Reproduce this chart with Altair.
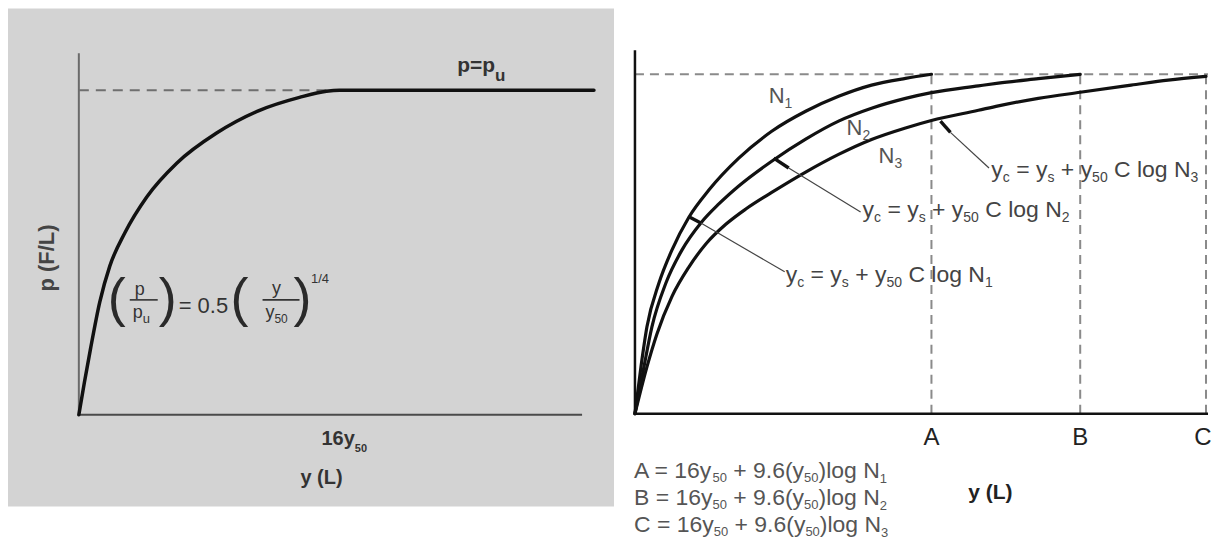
import altair as alt
import pandas as pd

# ---------------- data ----------------
# Left panel: p/pu versus y (in units of y50); reaches pu at 16 y50, then flat
left_y = [0, 0.337, 0.705, 1.287, 1.90, 2.82, 4.17, 6.01, 8.46, 11.10, 13.55, 15.2, 16.0, 31.63]
left_p = [0, 0.0985, 0.200, 0.348, 0.458, 0.560, 0.671, 0.775, 0.868, 0.938, 0.978, 0.997, 1.0, 1.0]

# Right panel: y as percent of C, p/pu
n1_y = [0, 1.05, 2.10, 4.20, 6.47, 9.44, 12.94, 18.18, 23.95, 29.90, 35.66, 41.43, 47.38, 51.92]
n1_p = [0, 0.138, 0.256, 0.385, 0.482, 0.579, 0.659, 0.753, 0.832, 0.891, 0.935, 0.968, 0.988, 1.0]
n2_y = [0, 1.57, 2.97, 5.42, 8.22, 11.54, 14.69, 18.18, 23.95, 29.90, 35.66, 41.43, 47.38, 51.92,
        60.14, 63.64, 70.63, 77.97]
n2_p = [0, 0.138, 0.256, 0.385, 0.482, 0.562, 0.618, 0.671, 0.744, 0.809, 0.862, 0.900, 0.929, 0.946,
        0.966, 0.974, 0.987, 1.0]
n3_y = [0, 2.10, 3.85, 6.47, 9.44, 12.41, 15.91, 19.41, 23.95, 29.90, 35.66, 41.43, 47.38, 51.92,
        60.14, 63.64, 70.63, 77.97, 86.89, 93.36, 100]
n3_p = [0, 0.138, 0.235, 0.345, 0.432, 0.500, 0.558, 0.603, 0.652, 0.712, 0.764, 0.808, 0.842, 0.864,
        0.894, 0.907, 0.929, 0.947, 0.968, 0.983, 0.994]
marks_abc = ["A", "B", "C"]
marks_pos = [51.92, 77.97, 100.0]
label_pos = [51.92, 77.97, 99.45]
curve_names = ["1", "2", "3"]

# ---------------- layout ----------------
FONT = "Liberation Sans"
LW, LH = 607, 499
RW, RH = 598, 528
LX = [-4.35, 32.86]
LY = [-0.283, 1.252]
RX = [-3.671, -3.671 + RW / 5.72]
RY = [1.194 - RH / 340.0, 1.194]
Lppx = LW / (LX[1] - LX[0]); Lppy = LH / (LY[1] - LY[0])
Rppx = RW / (RX[1] - RX[0]); Rppy = RH / (RY[1] - RY[0])

sxL = alt.Scale(domain=LX, nice=False, zero=False)
syL = alt.Scale(domain=LY, nice=False, zero=False)
sxR = alt.Scale(domain=RX, nice=False, zero=False)
syR = alt.Scale(domain=RY, nice=False, zero=False)

W_REG = {' ': 278, '=': 584, '+': 584, '(': 333, ')': 333, '.': 278, '/': 278, 'A': 667, 'B': 667,
         'C': 722, 'N': 722, 'F': 611, 'L': 556, 'a': 556, 'c': 500, 'g': 556, 'l': 222, 'o': 556,
         'p': 556, 's': 500, 'u': 556, 'y': 500}
W_BOLD = {' ': 278, '=': 584, '(': 333, ')': 333, '/': 278, 'F': 611, 'L': 611, 'p': 611, 'u': 611,
          'y': 556}


def layout(x0, y0, parts, ppx, ppy, bold=False, color="#333"):
    table = W_BOLD if bold else W_REG
    rows = []
    off = 0.0
    for t, size, dy in parts:
        lead = len(t) - len(t.lstrip(' '))
        off += lead * table[' '] * size / 1000
        body = t.strip(' ')
        if body:
            rows.append(dict(x=x0 + off / ppx, y=y0 - dy / ppy, text=body, size=size, color=color))
        off += sum(table.get(ch, 556) for ch in t.lstrip(' ')) * size / 1000
    return rows


def rules(df, sx, sy, **kw):
    return alt.Chart(pd.DataFrame(df)).mark_rule(**kw).encode(
        x=alt.X("x:Q", scale=sx, axis=None), y=alt.Y("y:Q", scale=sy, axis=None),
        x2="x2:Q", y2="y2:Q")


def texts(rows, sx, sy, **kw):
    return alt.Chart(pd.DataFrame(rows)).mark_text(font=FONT, **kw).encode(
        x=alt.X("x:Q", scale=sx, axis=None), y=alt.Y("y:Q", scale=sy, axis=None),
        text="text:N", size=alt.Size("size:Q", scale=None), color=alt.Color("color:N", scale=None))


# ---------------- left panel ----------------
L = []
L.append(rules([dict(x=0, y=0, x2=0, y2=1.114)], sxL, syL, color="#6a6a6a", strokeWidth=2))
L.append(rules([dict(x=0, y=0, x2=30.9, y2=0)], sxL, syL, color="#4a4a4a", strokeWidth=2))
L.append(rules([dict(x=0, y=1, x2=16, y2=1)], sxL, syL, color="#6f6f6f", strokeWidth=2,
               strokeDash=[10, 7]))
L.append(alt.Chart(pd.DataFrame({"x": left_y, "y": left_p})).mark_line(
    interpolate="monotone", color="#111", strokeWidth=3.5, strokeCap="round").encode(
    x=alt.X("x:Q", scale=sxL, axis=None), y=alt.Y("y:Q", scale=syL, axis=None)))
# fraction bars
L.append(rules([dict(x=3.126, y=0.354, x2=4.843, y2=0.354),
                dict(x=11.28, y=0.354, x2=13.55, y2=0.354)], sxL, syL, color="#333", strokeWidth=1.6))

bold_rows = []
bold_rows += layout(23.23, 1.055, [("p=p", 21, 0), ("u", 17, 9)], Lppx, Lppy, bold=True)
bold_rows += layout(14.90, -0.0923, [("16y", 20, 0), ("50", 11, 7)], Lppx, Lppy, bold=True)
L.append(texts(bold_rows, sxL, syL, align="left", baseline="alphabetic", fontWeight="bold"))
L.append(texts([dict(x=14.90, y=-0.212, text="y (L)", size=20, color="#333")], sxL, syL,
               align="center", baseline="alphabetic", fontWeight="bold"))
L.append(texts([dict(x=-1.96, y=0.483, text="p (F/L)", size=22, color="#444")], sxL, syL,
               align="center", baseline="middle", fontWeight="bold", angle=270))

reg_rows = []
reg_rows += layout(3.31, 0.298, [("p", 18, 0), ("u", 13, 5)], Lppx, Lppy)
reg_rows += layout(11.46, 0.298, [("y", 18, 0), ("50", 12, 5)], Lppx, Lppy)
reg_rows += layout(6.13, 0.314, [("= 0.5", 22, 0)], Lppx, Lppy)
reg_rows += layout(14.25, 0.406, [("1/4", 13, 0)], Lppx, Lppy)
L.append(texts(reg_rows, sxL, syL, align="left", baseline="alphabetic"))
paren_rows = [dict(x=2.33, y=0.305, text="(", size=54, color="#2a2a2a"),
              dict(x=5.456, y=0.305, text=")", size=54, color="#2a2a2a"),
              dict(x=9.87, y=0.305, text="(", size=54, color="#2a2a2a"),
              dict(x=13.73, y=0.305, text=")", size=54, color="#2a2a2a")]
L.append(texts(paren_rows, sxL, syL, align="center", baseline="alphabetic"))
num_rows = [dict(x=3.74, y=0.369, text="p", size=18, color="#333"),
            dict(x=12.14, y=0.372, text="y", size=18, color="#333")]
L.append(texts(num_rows, sxL, syL, align="center", baseline="alphabetic"))

left = alt.layer(*L).properties(width=LW, height=LH,
                                view=alt.ViewBackground(fill="#d3d3d3", strokeWidth=0))

# ---------------- right panel ----------------
R = []
R.append(rules([dict(x=0, y=1, x2=100.35, y2=1)] +
               [dict(x=p, y=0, x2=p, y2=1) for p in marks_pos], sxR, syR,
               color="#8a8a8a", strokeWidth=2, strokeDash=[9, 6]))
R.append(rules([dict(x=0, y=0, x2=0, y2=1.071), dict(x=0, y=0, x2=100.35, y2=0)], sxR, syR,
               color="#111", strokeWidth=2.5))
curves = pd.concat([
    pd.DataFrame({"x": n1_y, "y": n1_p, "s": "N1"}),
    pd.DataFrame({"x": n2_y, "y": n2_p, "s": "N2"}),
    pd.DataFrame({"x": n3_y, "y": n3_p, "s": "N3"}),
])
R.append(alt.Chart(curves).mark_line(interpolate="monotone", color="#111", strokeWidth=3.2,
                                     strokeCap="round").encode(
    x=alt.X("x:Q", scale=sxR, axis=None), y=alt.Y("y:Q", scale=syR, axis=None), detail="s:N"))
# leader ticks and lines
R.append(rules([dict(x=9.62, y=0.579, x2=11.54, y2=0.562),
                dict(x=24.30, y=0.753, x2=26.92, y2=0.724),
                dict(x=53.50, y=0.862, x2=55.24, y2=0.829)], sxR, syR, color="#111", strokeWidth=3.4))
R.append(rules([dict(x=11.54, y=0.562, x2=26.22, y2=0.418),
                dict(x=26.92, y=0.724, x2=39.51, y2=0.594),
                dict(x=55.24, y=0.829, x2=62.0, y2=0.724)], sxR, syR, color="#444", strokeWidth=1.2))

rr = []
for k, (ax, ay) in zip(curve_names, [(23.43, 0.915), (37.06, 0.821), (42.66, 0.738)]):
    rr += layout(ax, ay, [("N", 22, 0), (k, 14, 5)], Rppx, Rppy, color="#555")
for k, (ax, ay) in zip(curve_names, [(26.40, 0.388), (39.86, 0.579), (62.41, 0.697)]):
    rr += layout(ax, ay, [("y", 23, 0), ("c", 14, 5), (" = y", 23, 0), ("s", 14, 5),
                          (" + y", 23, 0), ("50", 14, 5), (" C log N", 23, 0), (k, 14, 5)],
                 Rppx, Rppy, color="#444")
for k, lab, ay in zip(curve_names, marks_abc, [-0.188, -0.2676, -0.347]):
    rr += layout(-0.175, ay, [(lab + " = 16y", 23, 0), ("50", 13, 4), (" + 9.6(y", 23, 0),
                              ("50", 13, 4), (")log N", 23, 0), (k, 13, 5)],
                 Rppx, Rppy, color="#555")
R.append(texts(rr, sxR, syR, align="left", baseline="alphabetic"))
R.append(texts([dict(x=p, y=-0.0912, text=t, size=24, color="#222") for t, p in zip(marks_abc, label_pos)],
               sxR, syR, align="center", baseline="alphabetic"))
R.append(texts([dict(x=62.24, y=-0.25, text="y (L)", size=21, color="#222")], sxR, syR,
               align="center", baseline="alphabetic", fontWeight="bold"))

right = alt.layer(*R).properties(width=RW, height=RH,
                                 view=alt.ViewBackground(fill="white", strokeWidth=0))

chart = alt.hconcat(left, right, spacing=0).properties(padding=0).configure(
    background="white").configure_view(strokeWidth=0)

chart.save("out.html", embed_options={"renderer": "svg", "actions": False})
